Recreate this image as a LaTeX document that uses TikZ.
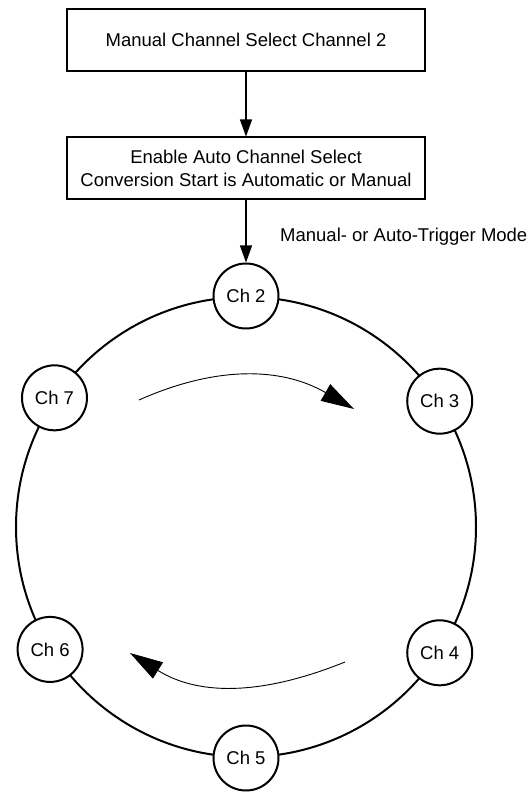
\documentclass[tikz,border=0pt]{standalone}
\usepackage{fontspec}
\setmainfont{Liberation Sans}
\usetikzlibrary{positioning,arrows.meta}

\begin{document}
\begin{tikzpicture}[x=1pt,y=1pt,
  font=\fontsize{18.5}{22.5}\selectfont,
  stagebox/.style={draw,line width=2pt,minimum width=357pt,minimum height=62pt,align=center,inner sep=0pt},
  chan/.style={draw,circle,line width=2pt,fill=white,minimum size=65pt,inner sep=0pt},
  flow/.style={line width=1.3pt,-{Triangle[length=17pt,width=12pt]}},
  spin/.style={line width=0.9pt,-{Triangle[length=33pt,width=19pt]}}]
\useasboundingbox (-246,-265) rectangle (283,527);
\node[stagebox] (manual) at (0,487) {Manual Channel Select Channel 2};
\node[stagebox] (enable) at (0,358.5) {Enable Auto Channel Select\\Conversion Start is Automatic or Manual};
% ring of channels
\draw[line width=2pt] (0,0) circle (230pt);
\foreach \ang/\num in {90/2,33/3,-33/4,-90/5,-148/6,146/7}
  \node[chan] (ch\num) at (\ang:231) {Ch \num};
\node[anchor=west,inner sep=0pt] (mode) at (34,290) {Manual- or Auto-Trigger Mode};
\draw[flow] (manual) -- (enable);
\draw[flow] (enable) -- (ch2);
% rotation arrows
\coordinate (cwfrom) at (-107,127);
\coordinate (cwto) at (108,118);
\coordinate (ccwfrom) at (99,-135);
\coordinate (ccwto) at (-116,-126);
\draw[spin] (cwfrom) to[out=24,in=150] (cwto);
\draw[spin] (ccwfrom) to[out=202,in=-32] (ccwto);
\end{tikzpicture}
\end{document}
